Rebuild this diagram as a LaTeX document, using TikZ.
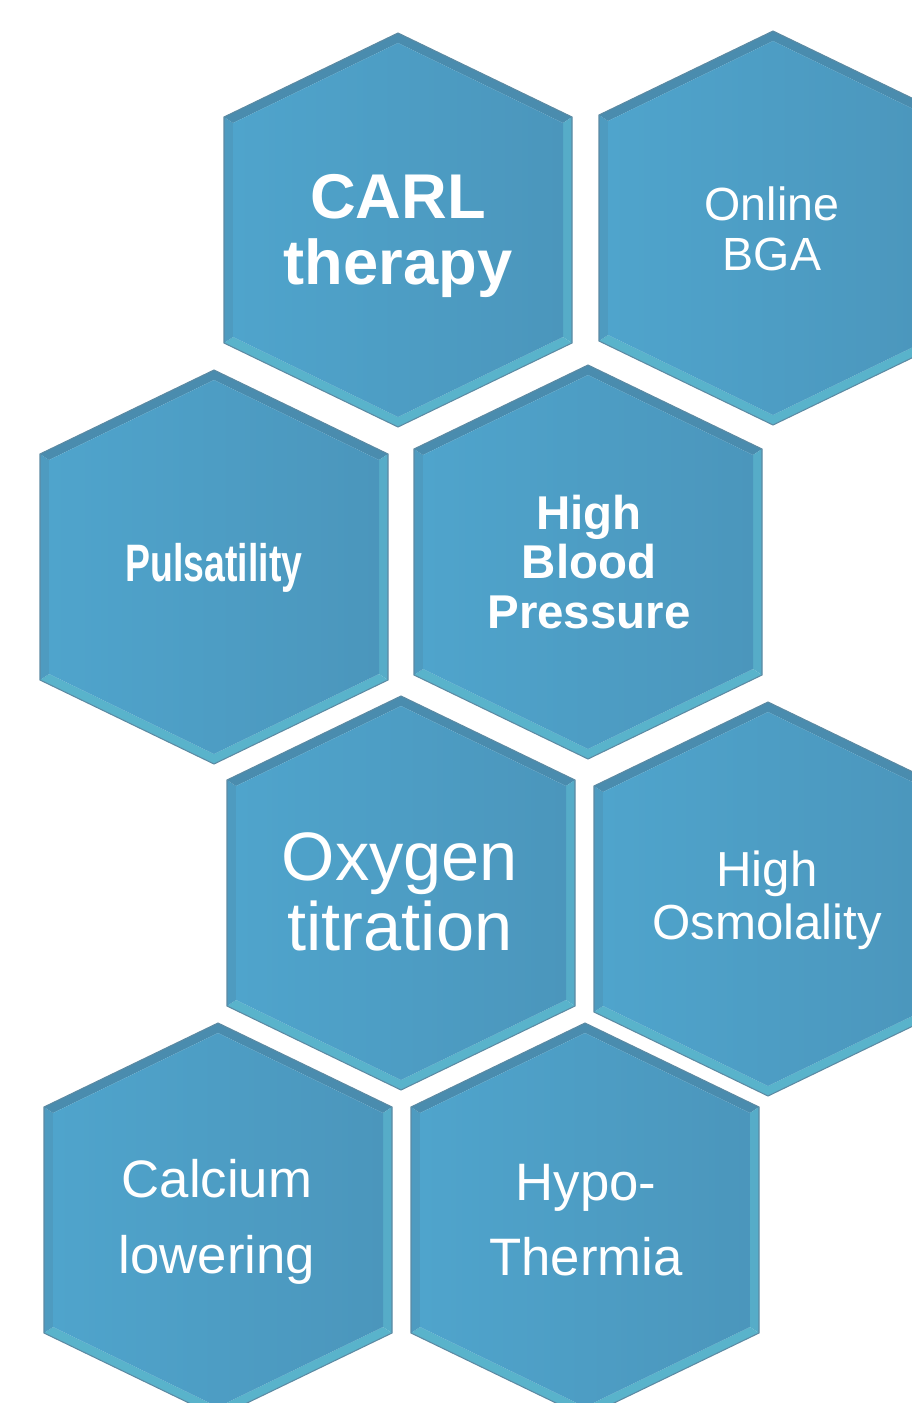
\documentclass[tikz,border=0pt]{standalone}
\usepackage{fontspec}
\setmainfont{Liberation Sans}
\newfontfamily\narrowfont[FakeStretch=0.71]{Liberation Sans}
\definecolor{hexfill}{HTML}{4FA4CC}
\definecolor{hexdeep}{HTML}{4B96BC}
\definecolor{hexdark}{HTML}{4A8CAE}
\definecolor{hexmid}{HTML}{4E9BC0}
\definecolor{hexlight}{HTML}{59B3CB}
\definecolor{hexline}{HTML}{5C8AA3}

\begin{document}
\begin{tikzpicture}[x=0.02cm,y=-0.02cm]
\tikzstyle{hexlabel}=[text=white, align=center, inner sep=0pt]
\useasboundingbox (0,0) rectangle (912,1403);
\clip (0,0) rectangle (912,1403);
\foreach \cx/\cy in {398/230,773/228,214/567,588/562,401/893,768/899,218/1220,585/1220}{
\begin{scope}[shift={(\cx,\cy)}]
\fill[hexdark] (0,-197) -- (174,-113) -- (165,-107) -- (0,-187) -- cycle;
\fill[hexlight!70!hexmid] (174,-113) -- (174,113) -- (165,107) -- (165,-107) -- cycle;
\fill[hexlight] (174,113) -- (0,197) -- (0,187) -- (165,107) -- cycle;
\fill[hexlight] (0,197) -- (-174,113) -- (-165,107) -- (0,187) -- cycle;
\fill[hexmid] (-174,113) -- (-174,-113) -- (-165,-107) -- (-165,107) -- cycle;
\fill[hexdark] (-174,-113) -- (0,-197) -- (0,-187) -- (-165,-107) -- cycle;
\shade[left color=hexfill, right color=hexdeep] (0,-187) -- (165,-107) -- (165,107) -- (0,187) -- (-165,107) -- (-165,-107) -- cycle;
\draw[hexline, line width=0.6pt] (0,-197) -- (174,-113) -- (174,113) -- (0,197) -- (-174,113) -- (-174,-113) -- cycle;
\end{scope}
}
\node[hexlabel, font=\bfseries\fontsize{36}{38}\selectfont] (carl) at (398,236) {CARL\\therapy};
\node[hexlabel, font=\fontsize{26.5}{28.5}\selectfont] (bga) at (772,229) {Online\\BGA};
\node[hexlabel, font=\narrowfont\bfseries\fontsize{30}{32}\selectfont] (pulse) at (214,568) {Pulsatility};
\node[hexlabel, font=\bfseries\fontsize{27}{28}\selectfont] (pressure) at (589,562) {High\\Blood\\Pressure};
\node[hexlabel, font=\fontsize{39}{40}\selectfont] (oxygen) at (400,892) {Oxygen\\titration};
\node[hexlabel, font=\fontsize{28}{30}\selectfont] (osmo) at (767,900) {High\\Osmolality};
\node[hexlabel, font=\fontsize{30}{43}\selectfont] (calcium) at (217,1222) {Calcium\\lowering};
\node[hexlabel, font=\fontsize{30}{43}\selectfont] (hypo) at (586,1220) {Hypo-\\Thermia};
\end{tikzpicture}
\end{document}
